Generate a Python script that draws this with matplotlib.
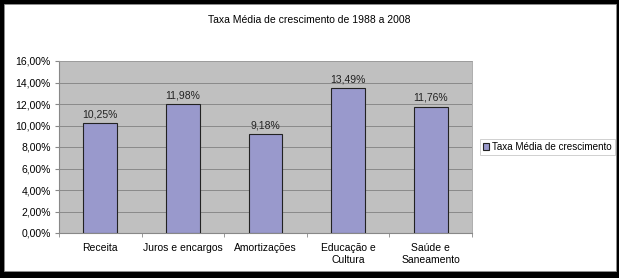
import matplotlib
matplotlib.use("Agg")
import matplotlib.pyplot as plt
from matplotlib.patches import Rectangle
import numpy as np

# dados
categorias = ["Receita", "Juros e encargos", "Amortizações", "Educação e\nCultura", "Saúde e\nSaneamento"]
taxas = [10.25, 11.98, 9.18, 13.49, 11.76]
yticks = [0, 2, 4, 6, 8, 10, 12, 14, 16]
serie = "Taxa Média de crescimento"

plt.rcParams['font.family'] = ['Liberation Sans', 'DejaVu Sans']

fig = plt.figure(figsize=(6.19, 2.78), dpi=100)
fig.patch.set_facecolor('black')
# moldura branca interna
fig.patches.append(Rectangle((4 / 619, 7 / 278), 612 / 619, 267 / 278,
                             transform=fig.transFigure, facecolor='white',
                             edgecolor='#909090', lw=0.6, zorder=-10))

ax = fig.add_axes([59 / 619, 1 - 233 / 278, 413 / 619, 172 / 278])
ax.set_facecolor('#C0C0C0')
x = np.arange(len(categorias))
barras = ax.bar(x, taxas, width=0.41, color='#9999CC', edgecolor='#222222',
                linewidth=0.8, label=serie, zorder=3)

for xi, v in zip(x, taxas):
    ax.text(xi, v + 0.35, f"{v:.2f}%".replace('.', ','), ha='center', va='bottom',
            fontsize=7.5, color='#222222')

ax.set_xlim(-0.5, len(categorias) - 0.5)
ax.set_ylim(0, 16)
ax.set_yticks(yticks)
ax.set_yticklabels([f"{t:.2f}%".replace('.', ',') for t in yticks], fontsize=7.5)
ax.yaxis.grid(True, color='#8a8a8a', lw=0.7, zorder=1)
ax.set_xticks(x)
ax.set_xticklabels(categorias, fontsize=7.5, linespacing=1.3)
ax.tick_params(axis='x', length=0, pad=7)
ax.tick_params(axis='y', length=3, color='#888888', pad=3)
ax.set_xticks(np.arange(-0.5, len(categorias), 1), minor=True)
ax.tick_params(axis='x', which='minor', length=3, color='#888888')
for s in ['top', 'right']:
    ax.spines[s].set_color('#a0a0a0')
    ax.spines[s].set_linewidth(0.6)
ax.spines['left'].set_color('#888888')
ax.spines['bottom'].set_color('#888888')
ax.spines['left'].set_linewidth(0.8)
ax.spines['bottom'].set_linewidth(0.8)

fig.text(0.5, 1 - 20 / 278, "Taxa Média de crescimento de 1988 a 2008",
         ha='center', va='center', fontsize=7.5)

leg = fig.legend(handles=[barras], labels=[serie], loc='center left',
                 bbox_to_anchor=(480 / 619, 1 - 147 / 278), fontsize=7.1,
                 frameon=True, fancybox=False, handlelength=0.6, handleheight=0.6,
                 handletextpad=0.3, borderpad=0.3, borderaxespad=0)
leg.get_frame().set_edgecolor('#bbbbbb')
leg.get_frame().set_linewidth(0.6)

fig.savefig("out.png", dpi=100, facecolor=fig.get_facecolor())
